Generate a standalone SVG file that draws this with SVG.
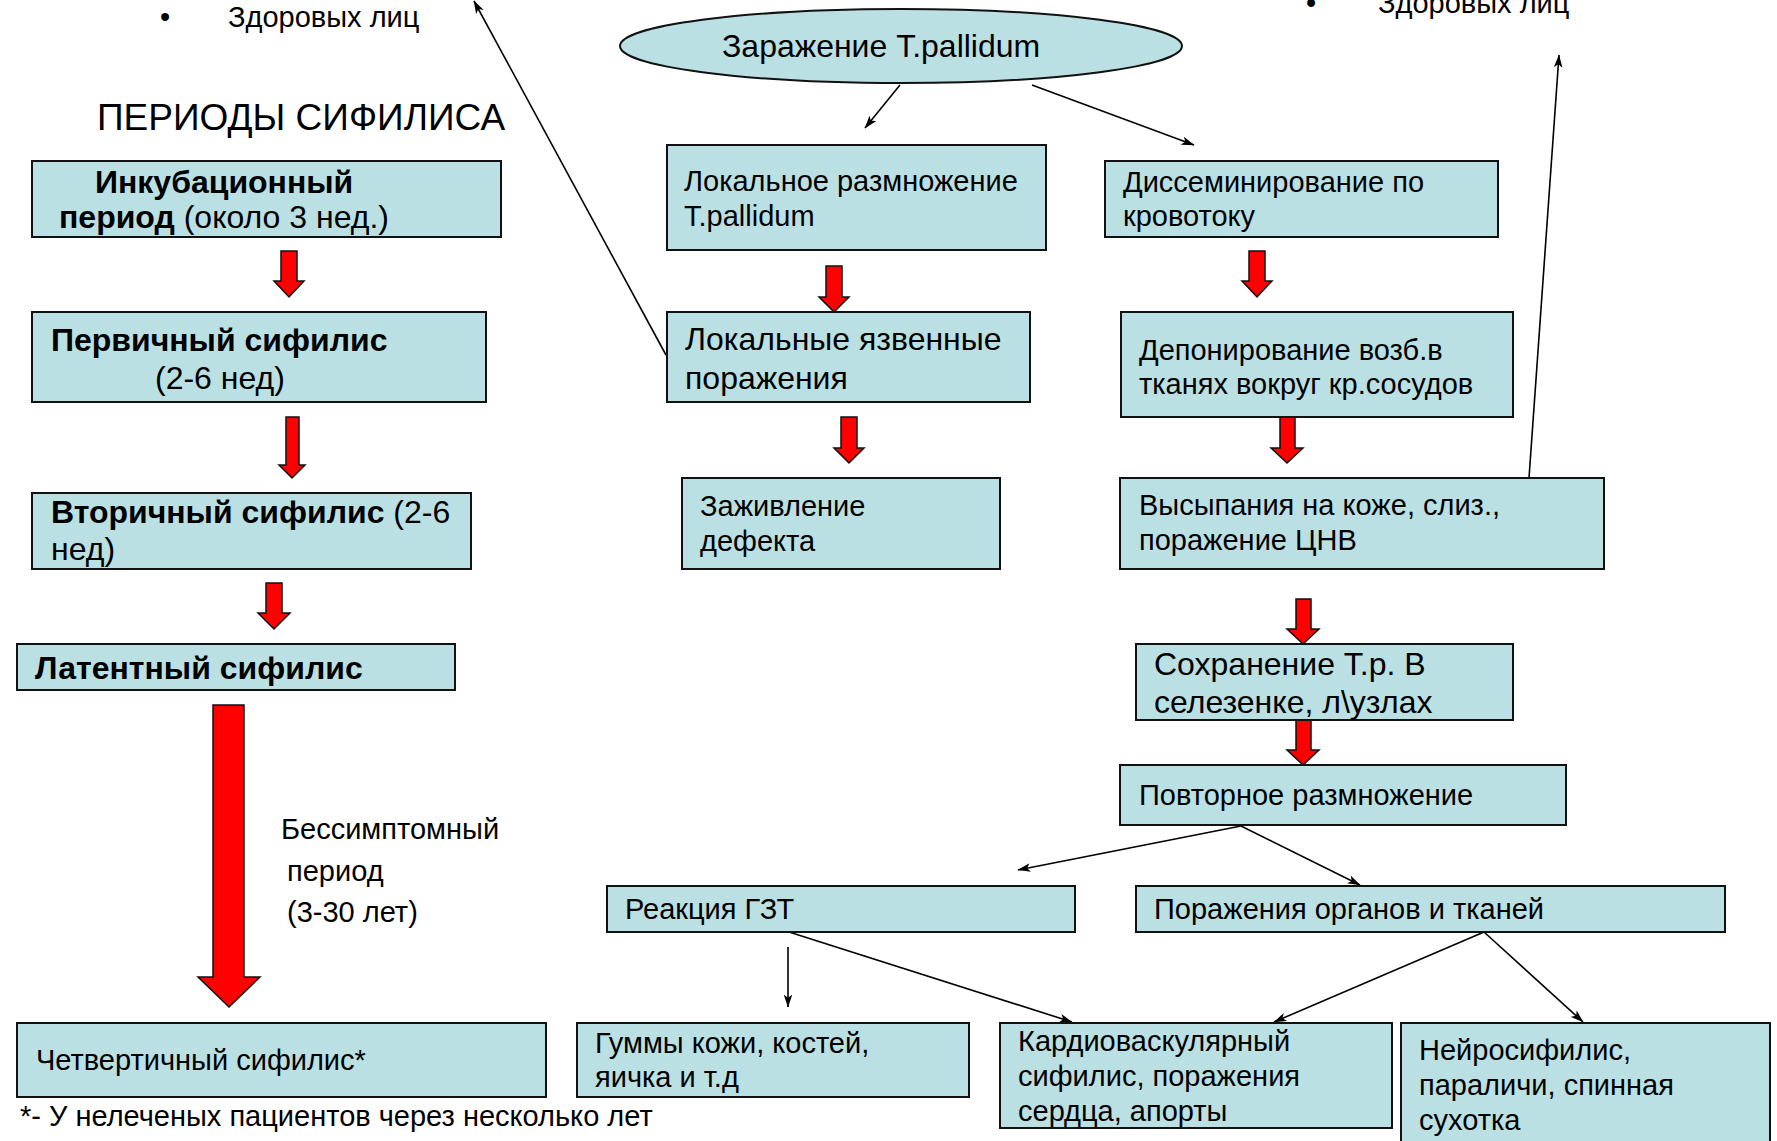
<svg xmlns="http://www.w3.org/2000/svg" width="1777" height="1141" viewBox="0 0 1777 1141">
<defs>
<style>
.bg{fill:#ffffff}
.box{fill:#BBE0E3;stroke:#111;stroke-width:2}
.t{font-family:"Liberation Sans",Arial,sans-serif;font-size:29px;fill:#000}
.L{font-size:32px}
.T{font-size:37px}
.b{font-weight:bold}
.red{fill:#FF0000;stroke:#111;stroke-width:1.5;stroke-linejoin:miter}
.con{fill:none;stroke:#000;stroke-width:1.6;marker-end:url(#ah)}
</style>
<marker id="ah" viewBox="0 0 12 8" markerWidth="13" markerHeight="9" refX="11.5" refY="4" orient="auto" markerUnits="userSpaceOnUse">
<path d="M0,0 L12,4 L0,8 L3,4 z" fill="#000"/>
</marker>
</defs>
<rect class="bg" x="0" y="0" width="1777" height="1141"/>

<g id="notes">
<text class="t" x="160" y="27">•</text>
<text class="t" x="228" y="27">Здоровых лиц</text>
<text class="t" x="1306" y="13">•</text>
<text class="t" x="1378" y="13">Здоровых лиц</text>
<text class="t T" x="97" y="130">ПЕРИОДЫ СИФИЛИСА</text>
<text class="t" x="281" y="839">Бессимптомный</text>
<text class="t" x="287" y="881">период</text>
<text class="t" x="287" y="922">(3-30 лет)</text>
<text class="t" x="20" y="1126">*- У нелеченых пациентов через несколько лет</text>
</g>

<g id="connectors">
<line class="con" x1="900" y1="85" x2="865" y2="128"/>
<line class="con" x1="1032" y1="85" x2="1194" y2="145"/>
<line class="con" x1="666" y1="355" x2="474" y2="1"/>
<line class="con" x1="1529" y1="478" x2="1559" y2="55"/>
<line class="con" x1="1241" y1="826" x2="1018" y2="870"/>
<line class="con" x1="1241" y1="826" x2="1360" y2="885"/>
<line class="con" x1="788" y1="947" x2="788" y2="1007"/>
<line class="con" x1="789" y1="932" x2="1072" y2="1022"/>
<line class="con" x1="1484" y1="932" x2="1274" y2="1022"/>
<line class="con" x1="1484" y1="932" x2="1583" y2="1022"/>
<polygon class="red" points="281,251 297,251 297,281 304,281 289,297 274,281 281,281"/>
<polygon class="red" points="286,417 299,417 299,465 305,465 292,478 279,465 286,465"/>
<polygon class="red" points="266,583 282,583 282,613 290,613 274,629 258,613 266,613"/>
<polygon class="red" points="213,705 244,705 244,977 260,977 229,1007 198,977 213,977"/>
<polygon class="red" points="826,266 842,266 842,297 849,297 834,312 819,297 826,297"/>
<polygon class="red" points="841,417 857,417 857,448 864,448 849,463 834,448 841,448"/>
<polygon class="red" points="1249,251 1265,251 1265,281 1272,281 1257,297 1242,281 1249,281"/>
<polygon class="red" points="1280,417 1295,417 1295,448 1303,448 1287,463 1271,448 1280,448"/>
<polygon class="red" points="1296,599 1311,599 1311,629 1319,629 1303,644 1287,629 1296,629"/>
<polygon class="red" points="1296,720 1311,720 1311,750 1319,750 1303,765 1287,750 1296,750"/>
</g>

<g id="n-incub">
<rect class="box" x="32" y="161" width="469" height="76"/>
<text class="t b L" x="95" y="193">Инкубационный</text>
<text class="t L" x="59" y="228"><tspan class="b">период</tspan> (около 3 нед.)</text>
</g>
<g id="n-primary">
<rect class="box" x="32" y="312" width="454" height="90"/>
<text class="t b L" x="51" y="351">Первичный сифилис</text>
<text class="t L" x="155" y="389">(2-6 нед)</text>
</g>
<g id="n-secondary">
<rect class="box" x="32" y="493" width="439" height="76"/>
<text class="t L" x="51" y="523"><tspan class="b">Вторичный сифилис</tspan> (2-6</text>
<text class="t L" x="51" y="560">нед)</text>
</g>
<g id="n-latent">
<rect class="box" x="17" y="644" width="438" height="46"/>
<text class="t b L" x="35" y="679">Латентный сифилис</text>
</g>
<g id="n-quaternary">
<rect class="box" x="17" y="1023" width="529" height="74"/>
<text class="t" x="36" y="1070">Четвертичный сифилис*</text>
</g>

<g id="n-infection">
<ellipse class="box" cx="901" cy="46" rx="281" ry="37"/>
<text class="t L" x="722" y="57">Заражение T.pallidum</text>
</g>
<g id="n-local">
<rect class="box" x="667" y="145" width="379" height="105"/>
<text class="t" x="684" y="191">Локальное размножение</text>
<text class="t" x="684" y="226">T.pallidum</text>
</g>
<g id="n-ulcer">
<rect class="box" x="667" y="312" width="363" height="90"/>
<text class="t L" x="685" y="350">Локальные язвенные</text>
<text class="t L" x="685" y="389">поражения</text>
</g>
<g id="n-healing">
<rect class="box" x="682" y="478" width="318" height="91"/>
<text class="t" x="700" y="516">Заживление</text>
<text class="t" x="700" y="551">дефекта</text>
</g>
<g id="n-dissem">
<rect class="box" x="1105" y="161" width="393" height="76"/>
<text class="t" x="1123" y="192">Диссеминирование по</text>
<text class="t" x="1123" y="226">кровотоку</text>
</g>
<g id="n-depot">
<rect class="box" x="1121" y="312" width="392" height="105"/>
<text class="t" x="1139" y="360">Депонирование возб.в</text>
<text class="t" x="1139" y="394">тканях вокруг кр.сосудов</text>
</g>
<g id="n-rash">
<rect class="box" x="1120" y="478" width="484" height="91"/>
<text class="t" x="1139" y="515">Высыпания на коже, слиз.,</text>
<text class="t" x="1139" y="550">поражение ЦНВ</text>
</g>
<g id="n-persist">
<rect class="box" x="1136" y="644" width="377" height="76"/>
<text class="t L" x="1154" y="675">Сохранение T.p. В</text>
<text class="t L" x="1154" y="713">селезенке, л\узлах</text>
</g>
<g id="n-repeat">
<rect class="box" x="1120" y="765" width="446" height="60"/>
<text class="t" x="1139" y="805">Повторное размножение</text>
</g>
<g id="n-gzt">
<rect class="box" x="607" y="886" width="468" height="46"/>
<text class="t" x="625" y="919">Реакция ГЗТ</text>
</g>
<g id="n-organs">
<rect class="box" x="1136" y="886" width="589" height="46"/>
<text class="t" x="1154" y="919">Поражения органов и тканей</text>
</g>
<g id="n-gumma">
<rect class="box" x="577" y="1023" width="392" height="74"/>
<text class="t" x="595" y="1053">Гуммы кожи, костей,</text>
<text class="t" x="595" y="1087">яичка и т.д</text>
</g>
<g id="n-cardio">
<rect class="box" x="1000" y="1023" width="392" height="105"/>
<text class="t" x="1018" y="1051">Кардиоваскулярный</text>
<text class="t" x="1018" y="1086">сифилис, поражения</text>
<text class="t" x="1018" y="1121">сердца, апорты</text>
</g>
<g id="n-neuro">
<rect class="box" x="1401" y="1023" width="369" height="130"/>
<text class="t" x="1419" y="1060">Нейросифилис,</text>
<text class="t" x="1419" y="1095">параличи, спинная</text>
<text class="t" x="1419" y="1130">сухотка</text>
</g>
</svg>
